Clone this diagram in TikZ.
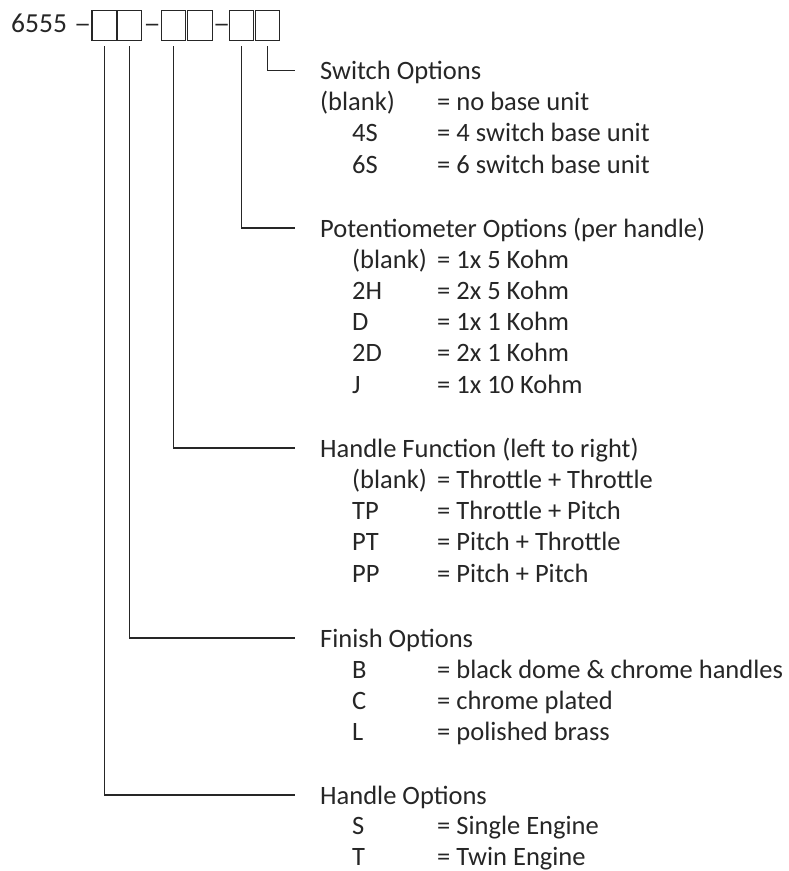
\documentclass[tikz,border=0pt]{standalone}
\usepackage{graphicx}
\usepackage{fontspec}
\setmainfont{Carlito}
\definecolor{ink}{HTML}{262626}
\begin{document}
\begin{tikzpicture}[x=1pt,y=-1pt,
  txt/.style={inner sep=0pt, anchor=base west, text=ink, font=\fontsize{26.5}{31}\selectfont},
  digitbox/.style={draw=ink, line width=1.2pt, minimum width=24.5pt, minimum height=30.5pt, inner sep=0pt},
  conn/.style={draw=ink, line width=1.2pt, shorten <=5pt}]
\useasboundingbox (0,0) rectangle (789,871);

% header
\node[txt] (num) at (11,32.7) {\fontsize{27.5}{31}\selectfont 6555};
\node[txt] (d1) at (74,32.7) {\scalebox{1.3}[1]{–}};
\node[digitbox] (b1) at (104.3,25.4) {};
\node[digitbox] (b2) at (129.4,25.4) {};
\node[txt] (d2) at (143.5,32.7) {\scalebox{1.3}[1]{–}};
\node[digitbox] (b3) at (173.6,25.4) {};
\node[digitbox] (b4) at (199.9,25.4) {};
\node[txt] (d3) at (213,32.7) {\scalebox{1.3}[1]{–}};
\node[digitbox] (b5) at (241.5,25.4) {};
\node[digitbox] (b6) at (267.4,25.4) {};

% connector ends
\coordinate (e6) at (295,70.5);
\coordinate (e5) at (295,228);
\coordinate (e3) at (295,448);
\coordinate (e2) at (295,638);
\coordinate (e1) at (295,795);

\draw[conn] (b6.south) |- (e6);
\draw[conn] (b5.south) |- (e5);
\draw[conn] (b3.south) |- (e3);
\draw[conn] (b2.south) |- (e2);
\draw[conn] (b1.south) |- (e1);

% Switch options
\node[txt] (sw) at (320,79.5) {Switch Options};
\node[txt] (sw1k) at (320,110.5) {(blank)};
\node[txt] (sw1v) at (437,110.5) {= no base unit};
\node[txt] (sw2k) at (352,141.5) {4S};
\node[txt] (sw2v) at (437,141.5) {= 4 switch base unit};
\node[txt] (sw3k) at (352,173) {6S};
\node[txt] (sw3v) at (437,173) {= 6 switch base unit};

% Potentiometer options
\node[txt] (po) at (320,237) {Potentiometer Options (per handle)};
\node[txt] (po1k) at (352,268) {(blank)};
\node[txt] (po1v) at (437,268) {= 1x 5 Kohm};
\node[txt] (po2k) at (352,299) {2H};
\node[txt] (po2v) at (437,299) {= 2x 5 Kohm};
\node[txt] (po3k) at (352,330.5) {D};
\node[txt] (po3v) at (437,330.5) {= 1x 1 Kohm};
\node[txt] (po4k) at (352,361.5) {2D};
\node[txt] (po4v) at (437,361.5) {= 2x 1 Kohm};
\node[txt] (po5k) at (352,393) {J};
\node[txt] (po5v) at (437,393) {= 1x 10 Kohm};

% Handle function
\node[txt] (hf) at (320,457) {Handle Function (left to right)};
\node[txt] (hf1k) at (352,488) {(blank)};
\node[txt] (hf1v) at (437,488) {= Throttle + Throttle};
\node[txt] (hf2k) at (352,519.5) {TP};
\node[txt] (hf2v) at (437,519.5) {= Throttle + Pitch};
\node[txt] (hf3k) at (352,550.5) {PT};
\node[txt] (hf3v) at (437,550.5) {= Pitch + Throttle};
\node[txt] (hf4k) at (352,582) {PP};
\node[txt] (hf4v) at (437,582) {= Pitch + Pitch};

% Finish options
\node[txt] (fo) at (320,647) {Finish Options};
\node[txt] (fo1k) at (352,678) {B};
\node[txt] (fo1v) at (437,678) {= black dome \& chrome handles};
\node[txt] (fo2k) at (352,709) {C};
\node[txt] (fo2v) at (437,709) {= chrome plated};
\node[txt] (fo3k) at (352,740) {L};
\node[txt] (fo3v) at (437,740) {= polished brass};

% Handle options
\node[txt] (ho) at (320,804) {Handle Options};
\node[txt] (ho1k) at (352,834.5) {S};
\node[txt] (ho1v) at (437,834.5) {= Single Engine};
\node[txt] (ho2k) at (352,865) {T};
\node[txt] (ho2v) at (437,865) {= Twin Engine};
\end{tikzpicture}
\end{document}
